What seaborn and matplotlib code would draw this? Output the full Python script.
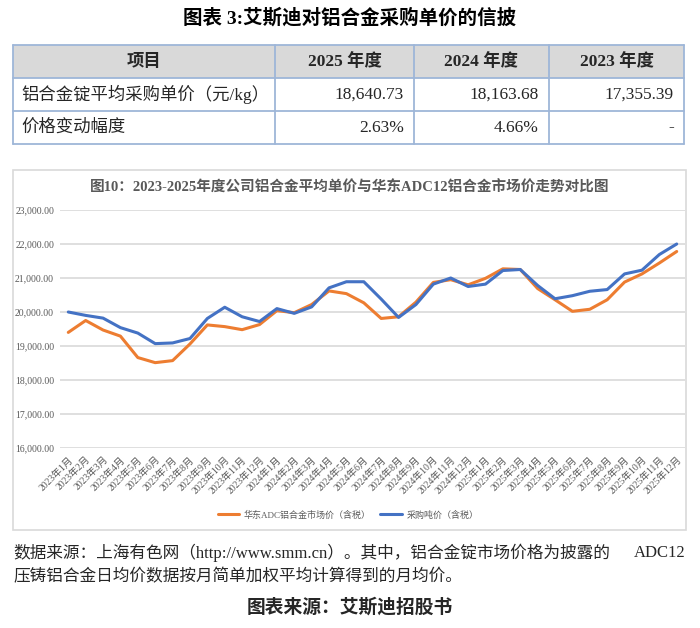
import numpy as np
import pandas as pd
import matplotlib
matplotlib.use('Agg')
import matplotlib.pyplot as plt
from matplotlib.patches import Rectangle
from matplotlib.ticker import FuncFormatter
import seaborn as sns

# Data

months = [f'{y}年{m}月' for y in (2023, 2024, 2025) for m in range(1, 13)]

market_price = [19400, 19750, 19470, 19290, 18660, 18510, 18570, 19060, 19620,
                19570, 19480, 19630, 20040, 19980, 20220, 20620, 20540, 20270,
                19810, 19860, 20290, 20870, 20950, 20800, 20990, 21270, 21250,
                20690, 20360, 20020, 20080, 20360, 20880, 21120, 21440, 21780]

purchase_price = [20000, 19900, 19820, 19540, 19380, 19070, 19090, 19220, 19810,
                  20140, 19860, 19720, 20100, 19960, 20150, 20710, 20890, 20890,
                  20380, 19840, 20220, 20820, 21000, 20750, 20820, 21220, 21250,
                  20780, 20390, 20480, 20610, 20660, 21120, 21230, 21690, 22000]

table_header = ['项目', '2025 年度', '2024 年度', '2023 年度']
table_rows = [
    ['铝合金锭平均采购单价（元/kg）', '18,640.73', '18,163.68', '17,355.39'],
    ['价格变动幅度', '2.63%', '4.66%', '-'],
]

title = '图表 3:艾斯迪对铝合金采购单价的信披'
chart_title = '图10：2023-2025年度公司铝合金平均单价与华东ADC12铝合金市场价走势对比图'
series_names = ['华东ADC铝合金市场价（含税）', '采购吨价（含税）']
note_line1 = '数据来源：上海有色网（http://www.smm.cn）。其中，铝合金锭市场价格为披露的'
note_line1_end = 'ADC12'
note_line2 = '压铸铝合金日均价数据按月简单加权平均计算得到的月均价。'
source = '图表来源：艾斯迪招股书'

# Style

sns.set_theme(style='white')
plt.rcParams['font.family'] = ['Liberation Serif', 'Noto Sans CJK SC']

ORANGE = '#ED7D31'
BLUE = '#4472C4'
GRAY_TXT = '#595959'
GRID = '#d9d9d9'
BORDER = '#9eb6d8'

fig = plt.figure(figsize=(7, 6.28), dpi=100)

# background axes in pixel coordinates for title, table and notes
bg = fig.add_axes([0, 0, 1, 1])
bg.set_xlim(0, 700)
bg.set_ylim(628, 0)
bg.axis('off')

bg.text(350, 18, title, ha='center', va='center', fontsize=14,
        fontweight='bold', color='black')

# table
col_x = [13, 275, 414, 549, 684]
row_y = [45, 78, 111, 144]
bg.add_patch(Rectangle((col_x[0], row_y[0]), col_x[-1] - col_x[0],
                       row_y[1] - row_y[0], facecolor='#d9d9d9', edgecolor='none'))
for x in col_x:
    bg.plot([x, x], [row_y[0], row_y[-1]], color=BORDER, lw=1.3)
for y in row_y:
    bg.plot([col_x[0], col_x[-1]], [y, y], color=BORDER, lw=1.3)

for j, h in enumerate(table_header):
    bg.text((col_x[j] + col_x[j + 1]) / 2, (row_y[0] + row_y[1]) / 2, h,
            ha='center', va='center', fontsize=12.5, fontweight='bold')
for i, row in enumerate(table_rows):
    yc = (row_y[i + 1] + row_y[i + 2]) / 2
    bg.text(col_x[0] + 8, yc, row[0], ha='left', va='center', fontsize=12.5)
    for j in range(1, 4):
        bg.text(col_x[j + 1] - 10, yc, row[j], ha='right', va='center', fontsize=12.5)

# chart frame and title
bg.add_patch(Rectangle((13, 170), 673, 360, fill=False, edgecolor=GRID, lw=1.2))
bg.text(350, 188, chart_title, ha='center', va='center', fontsize=10.5,
        fontweight='bold', color=GRAY_TXT)

# notes below chart
bg.text(13, 553, note_line1, ha='left', va='center', fontsize=12)
bg.text(685, 553, note_line1_end, ha='right', va='center', fontsize=12)
bg.text(13, 577, note_line2, ha='left', va='center', fontsize=12)
bg.text(350, 607, source, ha='center', va='center', fontsize=13.5, fontweight='bold')

# line chart
ax = fig.add_axes([59.6 / 700, 180 / 628, 625.8 / 700, 238 / 628])
ax.patch.set_alpha(0)

df = pd.DataFrame({'idx': np.arange(len(months)),
                   'market': market_price,
                   'purchase': purchase_price})

sns.lineplot(data=df, x='idx', y='market', ax=ax, color=ORANGE, lw=2.2,
             label=series_names[0])
sns.lineplot(data=df, x='idx', y='purchase', ax=ax, color=BLUE, lw=2.2,
             label=series_names[1])

ax.set_xlim(-0.5, len(months) - 0.5)
ax.set_ylim(16000, 23000)
ax.set_yticks(np.arange(16000, 23001, 1000))
ax.yaxis.set_major_formatter(FuncFormatter(lambda v, p: f'{v:,.2f}'))
ax.set_xticks(df['idx'])
ax.set_xticklabels(months, rotation=45, ha='right', rotation_mode='anchor')
ax.set_xlabel('')
ax.set_ylabel('')
ax.grid(axis='y', color=GRID, lw=1.2)
ax.grid(axis='x', visible=False)
for s in ax.spines.values():
    s.set_visible(False)
ax.tick_params(axis='y', length=0, pad=4, labelsize=7, labelcolor=GRAY_TXT)
ax.tick_params(axis='x', length=0, pad=5, labelsize=7, labelcolor=GRAY_TXT)

handles, labels = ax.get_legend_handles_labels()
ax.legend(handles, labels, loc='center', bbox_to_anchor=(348 / 700, 1 - 515 / 628),
          bbox_transform=fig.transFigure, ncol=2, frameon=False, fontsize=6.5,
          handlelength=2.4, handletextpad=0.5, columnspacing=1.0,
          labelcolor=GRAY_TXT)

fig.savefig('out.png', dpi=100)
